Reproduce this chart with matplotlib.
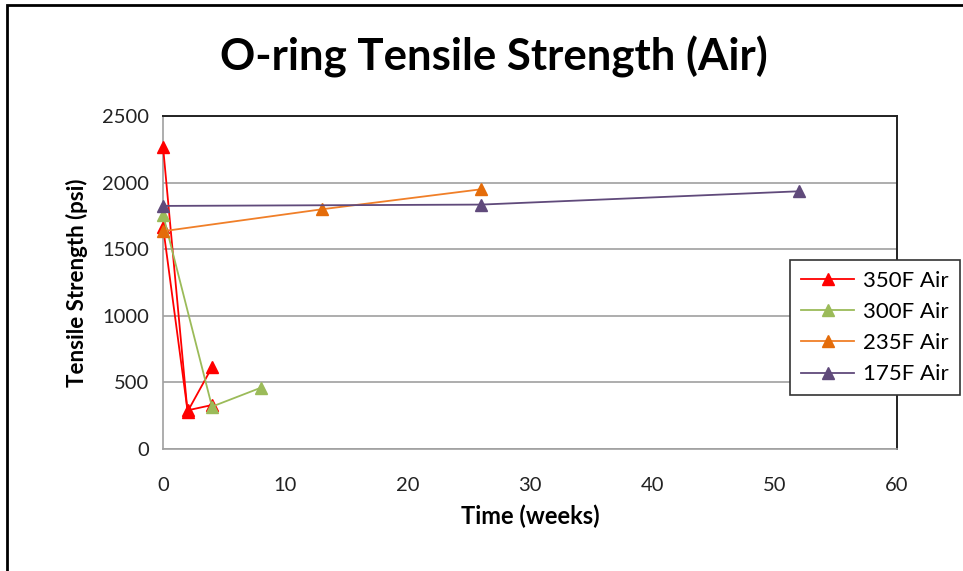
import matplotlib.pyplot as plt
import matplotlib.patches as mpatches

plt.rcParams['font.family'] = ['Lato', 'DejaVu Sans']

# Data (time in weeks, tensile strength in psi)
x_350a = [0, 2, 4]
y_350a = [2270, 280, 613]
x_350b = [0, 2, 4]
y_350b = [1670, 290, 330]
x_300 = [0, 4, 8]
y_300 = [1760, 318, 460]
x_235 = [0, 13, 26]
y_235 = [1635, 1800, 1950]
x_175 = [0, 26, 52]
y_175 = [1825, 1835, 1935]

fig = plt.figure(figsize=(9.63, 5.71), dpi=100)
ax = fig.add_axes([0.1693, 0.2137, 0.7622, 0.5831])

mk = dict(marker='^', markersize=9, clip_on=False, zorder=3)
ax.plot(x_350a, y_350a, color='#FF0000', lw=1.3, label='350F Air', **mk)
ax.plot(x_350b, y_350b, color='#FF0000', lw=1.3, **mk)
ax.plot(x_300, y_300, color='#9BBB59', lw=1.3, label='300F Air', **mk)
ax.plot(x_235, y_235, color='#F07F28', lw=1.3, label='235F Air', markerfacecolor='#E46C0A', markeredgecolor='#E46C0A', **mk)
ax.plot(x_175, y_175, color='#604A7B', lw=1.3, label='175F Air', **mk)

ax.set_xlim(0, 60)
ax.set_ylim(0, 2500)
ax.set_xticks(range(0, 61, 10))
ax.set_yticks(range(0, 2501, 500))
ax.grid(axis='y', color='#A0A0A0', lw=1.2)
ax.set_axisbelow(True)
ax.tick_params(length=0, labelsize=14.5, colors='#222222')
ax.tick_params(axis='x', pad=20)
ax.tick_params(axis='y', pad=10)

for s in ['left', 'bottom']:
    ax.spines[s].set_color('#A0A0A0')
    ax.spines[s].set_linewidth(1.2)
for s in ['top', 'right']:
    ax.spines[s].set_color('#222222')
    ax.spines[s].set_linewidth(1.4)

ax.set_xlabel('Time (weeks)', fontsize=17, fontweight='bold', labelpad=8)
ax.set_ylabel('Tensile Strength (psi)', fontsize=16, fontweight='bold', labelpad=10)
fig.text(0.513, 0.9, 'O-ring Tensile Strength (Air)', ha='center', va='center',
         fontsize=31.5, fontweight='bold')

leg = ax.legend(loc='upper left', bbox_to_anchor=(0.854, 0.568), fontsize=16,
                frameon=True, fancybox=False, handlelength=2.4, borderaxespad=0,
                borderpad=0.5, labelspacing=0.5, handletextpad=0.4)
leg.get_frame().set_edgecolor('#333333')
leg.get_frame().set_linewidth(1.2)
leg.get_frame().set_alpha(1)

# Outer chart border (only left and top edges visible)
fig.patches.append(mpatches.Rectangle((7 / 963, -0.1), 1.2, 1 - 5 / 571 + 0.1,
                                      transform=fig.transFigure, fill=False,
                                      edgecolor='black', lw=2))

fig.savefig('out.png', dpi=100)
